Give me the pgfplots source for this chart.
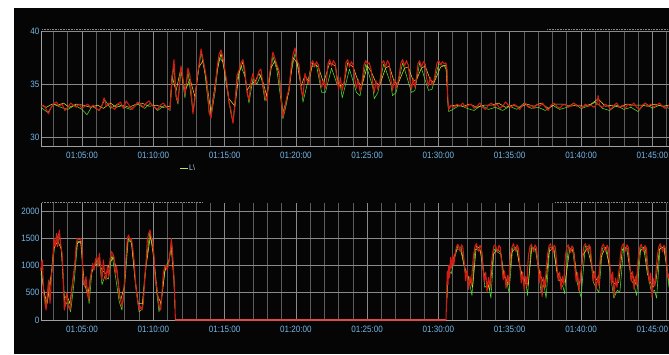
\documentclass[border=0pt]{standalone}
\usepackage{fontspec}
\setmainfont{Liberation Sans}[FakeStretch=0.88]
\usepackage{pgfplots}
\pgfplotsset{compat=1.18}
\definecolor{bgk}{HTML}{050505}
\definecolor{lblue}{HTML}{74B6E6}
\definecolor{trred}{HTML}{D41C14}
\definecolor{trpink}{HTML}{E04A44}
\definecolor{trgreen}{HTML}{4EDC2A}
\definecolor{tryellow}{HTML}{E6D22E}
\definecolor{gridmaj}{HTML}{8A8A8A}
\definecolor{gridmin}{HTML}{5C5C5C}
\pgfplotsset{
  panel/.style={
    scale only axis, width=628pt,
    xmin=62.124, xmax=106.17,
    axis lines*=left,
    axis line style={draw=gridmaj!80!white, line width=0.9pt},
    xtick={65,70,75,80,85,90,95,100,105},
    xticklabels={01:05:00,01:10:00,01:15:00,01:20:00,01:25:00,01:30:00,01:35:00,01:40:00,01:45:00},
    minor xtick={63,64,66,67,68,69,71,72,73,74,76,77,78,79,81,82,83,84,86,87,88,89,91,92,93,94,96,97,98,99,101,102,103,104,106},
    xmajorgrids, xminorgrids, ymajorgrids,
    major grid style={draw=gridmaj, line width=0.7pt},
    minor grid style={draw=gridmin, line width=0.6pt},
    major tick length=0pt, minor tick length=0pt,
    tick style={draw=none},
    ticklabel style={font=\fontsize{9.2}{10}\selectfont, text=lblue},
    xticklabel style={yshift=-2.2pt},
    yticklabel style={xshift=1.8pt},
    /pgf/number format/assume math mode=true,
    /pgf/number format/1000 sep={},
    clip=false,
  },
  red/.style={draw=trred, line width=1.05pt, line join=round, no marks},
  grn/.style={draw=trgreen, line width=0.55pt, line join=round, no marks},
  yel/.style={draw=tryellow, line width=0.55pt, line join=round, no marks},
}
\begin{document}
\begin{tikzpicture}[x=1pt,y=1pt]
\path[use as bounding box] (0,0) rectangle (669,354);
\fill[white] (0,0) rectangle (669,354);
\fill[bgk] (14,0) rectangle (669,346);
% ---------------- top panel ----------------
\begin{axis}[panel, at={(41pt,208pt)}, anchor=south west, height=115pt,
  ymin=29.15, ymax=40, ytick={30,35,40}]
\addplot[grn] coordinates {
(62.12,32.8)(62.6,32.3)(63.0,33.1)(63.5,32.8)(64.0,32.6)(64.5,33.0)(65.0,32.6)(65.35,32.1)(65.7,32.9)(66.2,32.5)(66.6,33.5)(67.0,32.7)(67.5,33.1)(68.0,32.8)(68.4,32.6)(68.9,33.1)(69.4,32.7)(69.8,33.2)(70.3,32.5)(70.8,33.0)(71.17,32.5)
(71.31,35.0)(71.45,36.8)(71.59,33.8)(71.73,33.1)(71.94,36.3)(72.22,33.7)(72.43,36.2)(72.78,32.4)(73.06,35.2)(73.35,38.0)(73.63,35.9)(73.91,32.5)(74.05,31.9)(74.33,34.2)(74.61,37.5)(74.89,37.1)(75.17,34.5)(75.45,32.2)(75.59,31.4)(75.87,35.4)(76.15,36.7)(76.43,35.7)(76.71,33.2)(76.99,35.5)(77.27,35.0)(77.55,35.9)(77.83,33.4)(78.11,35.0)(78.39,37.6)(78.67,36.3)(78.95,33.5)(79.09,31.7)(79.37,33.3)(79.66,36.0)(79.94,37.9)(80.22,36.3)(80.5,33.3)(80.78,34.9)
(81.06,36.6)(81.44,36.8)(81.81,34.2)(82.07,34.2)(82.5,36.5)(82.88,35.0)(83.12,34.9)(83.25,33.7)(83.76,36.4)(84.25,34.2)(84.5,33.9)(84.9,36.9)(85.38,34.8)(85.5,33.6)(85.75,34.2)(86.16,36.9)(86.66,35.0)(86.78,33.9)(87.03,34.2)(87.49,37.0)(88.11,34.2)(88.35,34.4)(88.68,37.0)(89.3,34.4)(89.55,34.5)(90.02,36.9)(90.42,36.7)(90.6,36.2)(90.66,33.0)(90.72,32.4)
(91.0,32.6)(91.5,33.0)(92.0,32.7)(92.5,32.5)(93.0,33.0)(93.5,32.6)(94.0,32.8)(94.5,32.5)(95.0,32.9)(95.5,32.6)(96.0,33.2)(96.5,32.7)(97.0,32.8)(97.5,32.5)(98.0,33.0)(98.5,32.6)(99.0,32.8)(99.5,33.2)(100.0,32.7)(100.5,32.9)(101.0,33.3)(101.5,32.7)(102.0,32.5)(102.5,33.0)(103.0,32.6)(103.5,32.8)(104.0,32.4)(104.5,33.2)(105.0,32.7)(105.5,33.0)(106.17,32.7)
};
\addplot[yel] coordinates {
(62.12,33.0)(62.5,32.8)(62.9,33.1)(63.3,33.0)(63.7,33.2)(64.1,32.8)(64.6,33.1)(65.1,33.0)(65.6,32.8)(66.1,33.0)(66.5,32.7)(67.0,33.2)(67.4,32.8)(67.9,33.0)(68.3,32.8)(68.8,33.1)(69.2,33.2)(69.7,32.9)(70.2,33.0)(70.7,32.8)(71.17,32.9)
(71.31,35.8)(71.59,34.3)(71.94,36.5)(72.22,34.3)(72.57,35.5)(72.92,33.8)(73.2,36.6)(73.49,37.2)(73.77,34.9)(74.05,32.3)(74.47,36.2)(74.75,37.9)(75.03,36.0)(75.31,33.6)(75.73,32.9)(76.01,36.0)(76.29,37.1)(76.57,34.4)(76.85,35.0)(77.13,35.2)(77.41,36.0)(77.69,35.2)(77.97,33.8)(78.25,36.5)(78.53,37.2)(78.81,36.0)(79.09,32.3)(79.52,34.3)(79.8,37.5)(80.08,37.0)(80.36,34.8)(80.64,35.8)(80.92,35.2)
(81.18,37.0)(81.58,36.6)(81.94,35.1)(82.37,37.0)(82.77,36.7)(83.0,34.8)(83.38,35.0)(83.63,37.0)(84.02,36.6)(84.38,35.2)(84.62,34.8)(85.02,36.7)(85.27,36.2)(85.62,35.1)(85.88,34.9)(86.29,36.5)(86.55,36.7)(86.9,35.2)(87.16,35.0)(87.62,36.5)(87.88,36.6)(88.23,35.3)(88.46,35.4)(88.81,36.5)(89.07,36.7)(89.42,35.4)(89.68,35.1)(90.15,36.6)(90.52,36.8)(90.66,33.3)(90.72,32.9)
(91.2,33.0)(91.7,32.9)(92.2,33.1)(92.7,32.8)(93.2,33.0)(93.7,33.0)(94.2,33.2)(94.7,32.8)(95.2,33.0)(95.7,32.8)(96.2,33.1)(96.7,32.9)(97.2,33.2)(97.7,32.7)(98.2,33.1)(98.7,33.1)(99.2,32.9)(99.7,33.0)(100.2,32.9)(100.7,33.1)(101.2,33.6)(101.7,32.9)(102.2,33.0)(102.7,32.8)(103.2,33.1)(103.7,33.0)(104.2,33.0)(104.7,32.9)(105.2,33.1)(105.7,32.9)(106.17,33.0)
};
\addplot[red] coordinates {
(62.12,32.9)(62.3,33.0)(62.5,32.6)(62.65,32.2)(62.8,32.7)(63.0,33.1)(63.2,33.3)(63.4,32.9)(63.6,33.1)(63.8,32.5)(64.0,32.8)(64.2,33.2)(64.4,33.0)(64.6,32.8)(64.8,33.1)(65.0,32.7)(65.2,32.9)(65.4,33.1)(65.6,32.8)(65.8,33.0)(66.0,32.7)(66.2,32.5)(66.4,33.0)(66.55,33.7)(66.7,32.9)(66.9,33.2)(67.1,32.8)(67.3,32.6)(67.5,33.1)(67.7,33.3)(67.9,32.7)(68.1,33.4)(68.3,33.0)(68.5,32.6)(68.7,32.9)(68.9,33.3)(69.1,33.1)(69.3,32.8)(69.5,33.2)(69.7,33.4)(69.9,33.0)(70.1,32.8)(70.3,32.6)(70.5,33.0)(70.7,33.2)(70.9,32.9)(71.1,32.6)(71.17,32.6)
(71.31,35.5)(71.45,37.3)(71.59,34.0)(71.73,33.3)(71.94,36.7)(72.08,35.5)(72.22,34.0)(72.43,36.5)(72.57,35.8)(72.78,32.2)(72.92,33.5)(73.06,35.5)(73.2,36.8)(73.35,38.3)(73.49,37.3)(73.63,36.3)(73.77,35.2)(73.91,32.3)(74.05,31.8)(74.19,33.5)(74.33,34.5)(74.47,36.5)(74.61,37.8)(74.75,38.2)(74.89,37.5)(75.03,36.3)(75.17,35.0)(75.31,33.2)(75.45,32.5)(75.59,31.3)(75.73,33.0)(75.87,35.8)(76.01,36.3)(76.15,37.0)(76.29,37.3)(76.43,36.2)(76.57,34.2)(76.71,33.5)(76.85,35.2)(76.99,36.0)(77.13,35.0)(77.27,35.5)(77.41,36.2)(77.55,36.4)(77.69,35.0)(77.83,33.8)(77.97,33.4)(78.11,35.5)(78.25,36.8)(78.39,38.0)(78.53,37.4)(78.67,36.8)(78.81,36.3)(78.95,34.0)(79.09,31.9)(79.23,32.8)(79.37,33.8)(79.52,34.5)(79.66,36.5)(79.8,37.8)(79.94,38.4)(80.08,37.2)(80.22,36.8)(80.36,34.5)(80.5,33.8)(80.64,36.0)(80.78,35.3)(80.92,35.0)
(81.06,36.9)(81.18,37.2)(81.31,36.6)(81.44,37.1)(81.58,36.8)(81.68,35.5)(81.81,34.7)(81.94,35.3)(82.07,34.6)(82.17,35.6)
(82.25,36.9)(82.37,37.3)(82.5,36.7)(82.63,37.2)(82.77,36.9)(82.88,35.4)(83.0,34.5)(83.12,35.6)(83.25,34.4)(83.38,35.2)(83.45,35.9)
(83.51,37.0)(83.63,37.3)(83.76,36.6)(83.89,37.1)(84.02,36.8)(84.13,35.5)(84.25,34.6)(84.38,35.4)(84.5,34.3)(84.62,35.0)(84.71,36.0)
(84.78,36.8)(84.9,37.2)(85.02,36.9)(85.14,37.0)(85.27,36.4)(85.38,35.2)(85.5,34.2)(85.62,35.3)(85.75,34.5)(85.88,35.1)(85.97,36.0)
(86.04,37.0)(86.16,37.2)(86.29,36.6)(86.42,37.2)(86.55,36.9)(86.66,35.5)(86.78,34.4)(86.9,35.4)(87.03,34.6)(87.16,35.2)(87.28,36.1)
(87.37,37.0)(87.49,37.3)(87.62,36.7)(87.75,37.2)(87.88,36.8)(87.99,35.4)(88.11,34.5)(88.23,35.5)(88.35,34.7)(88.46,35.6)
(88.56,36.9)(88.68,37.2)(88.81,36.6)(88.94,37.1)(89.07,36.9)(89.18,35.5)(89.3,34.8)(89.42,35.6)(89.55,34.9)(89.68,35.3)(89.8,36.2)
(89.9,37.0)(90.02,37.2)(90.15,36.8)(90.28,37.1)(90.42,36.9)(90.52,37.0)(90.6,36.4)(90.66,33.5)(90.72,32.6)
(90.9,33.0)(91.1,32.8)(91.3,33.1)(91.5,32.9)(91.7,33.2)(91.9,32.8)(92.1,33.0)(92.3,33.1)(92.5,32.7)(92.7,32.9)(92.9,33.2)(93.1,32.8)(93.3,32.6)(93.5,33.0)(93.7,33.2)(93.9,32.9)(94.1,33.1)(94.3,32.7)(94.5,32.9)(94.7,33.3)(94.9,33.0)(95.1,32.8)(95.3,33.1)(95.5,32.9)(95.7,32.6)(95.9,33.0)(96.1,33.2)(96.3,32.8)(96.5,33.0)(96.7,32.7)(96.9,33.1)(97.1,32.9)(97.3,33.2)(97.5,32.8)(97.7,32.5)(97.9,33.0)(98.1,33.2)(98.3,32.9)(98.5,32.7)(98.7,33.0)(98.9,33.1)(99.1,32.8)(99.3,33.0)(99.5,33.2)(99.7,32.9)(99.9,33.0)(100.1,32.7)(100.3,33.1)(100.5,32.9)(100.7,33.0)(100.9,32.8)(101.1,33.1)(101.2,33.9)(101.3,33.0)(101.5,32.8)(101.7,33.1)(101.9,32.9)(102.1,32.6)(102.3,33.0)(102.5,33.2)(102.7,32.8)(102.9,33.0)(103.1,32.7)(103.3,33.1)(103.5,32.9)(103.7,33.2)(103.9,32.8)(104.1,32.6)(104.3,33.0)(104.5,33.2)(104.7,32.9)(104.9,33.1)(105.1,32.8)(105.3,33.0)(105.5,33.2)(105.7,32.9)(105.9,32.7)(106.17,33.0)
};
\draw[gridmaj, densely dotted, line width=0.6pt] (axis cs:62.19,40.2) -- (axis cs:73.49,40.2);
\draw[gridmaj, densely dotted, line width=0.6pt] (axis cs:97.61,40.2) -- (axis cs:106.17,40.2);
\end{axis}
% legend-like label under the top panel
\draw[tryellow!70!trgreen!80!white, line width=0.9pt] (180,186) -- (188,186);
\node[anchor=west, inner sep=0pt, text=lblue!60!white, font=\fontsize{8}{9}\selectfont] at (189,186) {L\textbackslash};
% ---------------- bottom panel ----------------
\begin{axis}[panel, at={(41pt,33.2pt)}, anchor=south west, height=117.8pt,
  ymin=-15, ymax=2147, ytick={0,500,1000,1500,2000}]
\addplot[grn] coordinates {
(62.12,850)(62.3,600)(62.48,250)(62.7,650)(62.9,900)(63.1,1400)(63.4,1600)(63.6,1150)(63.8,250)(64.0,350)(64.2,150)(64.45,700)(64.7,1450)(64.95,1400)(65.1,650)(65.3,700)(65.5,300)(65.7,900)(65.95,1050)(66.2,1150)(66.4,650)(66.6,800)(66.85,750)(67.1,1200)(67.35,800)(67.6,350)(67.8,180)(68.0,650)(68.25,1500)(68.5,1400)(68.75,650)(69.0,150)(69.2,200)(69.45,950)(69.75,1600)(70.0,1300)(70.2,600)(70.4,150)(70.6,450)(70.85,950)(71.1,1100)(71.3,1400)(71.45,800)(71.52,200)
};
\addplot[grn] coordinates {
(90.58,300)(90.62,700)(90.75,900)(90.9,850)(91.1,1100)(91.35,1350)(91.6,1330)(91.85,900)(92.05,800)(92.2,650)(92.35,450)(92.55,1300)(92.8,1280)(93.05,1250)(93.25,600)(93.5,650)(93.68,400)(93.9,1300)(94.15,1250)(94.4,1200)(94.6,800)(94.8,700)(94.95,500)(95.2,1320)(95.5,1330)(95.75,900)(95.95,750)(96.15,650)(96.25,450)(96.5,1350)(96.8,1300)(97.0,950)(97.2,500)(97.4,650)(97.55,400)(97.8,1330)(98.1,1320)(98.35,800)(98.55,700)(98.75,600)(98.85,480)(99.1,1330)(99.4,1300)(99.6,900)(99.8,600)(100.0,420)(100.3,1350)(100.6,1340)(100.85,700)(101.05,600)(101.25,500)(101.5,1320)(101.8,1330)(102.05,850)(102.3,400)(102.55,550)(102.72,500)(103.0,1350)(103.3,1300)(103.5,750)(103.7,650)(103.9,450)(104.2,1340)(104.5,1320)(104.75,750)(104.95,500)(105.15,550)(105.3,400)(105.55,1350)(105.85,1320)(106.17,600)
};
\addplot[yel] coordinates {
(62.12,950)(62.35,500)(62.55,300)(62.8,700)(63.0,1300)(63.3,1450)(63.55,1300)(63.75,400)(63.95,450)(64.15,300)(64.4,800)(64.65,1400)(64.9,1450)(65.15,700)(65.4,450)(65.65,850)(65.9,1000)(66.15,1050)(66.45,900)(66.7,850)(66.95,1050)(67.2,1150)(67.45,900)(67.7,350)(67.95,600)(68.2,1450)(68.45,1450)(68.7,800)(68.95,300)(69.25,300)(69.5,1000)(69.8,1550)(70.05,1100)(70.3,450)(70.55,300)(70.8,900)(71.05,1000)(71.25,1350)(71.45,700)(71.52,250)
};
\addplot[yel] coordinates {
(90.6,400)(90.65,800)(90.8,950)(91.0,1100)(91.3,1300)(91.55,1300)(91.8,1000)(92.0,850)(92.25,700)(92.4,600)(92.65,1350)(92.9,1320)(93.15,900)(93.4,700)(93.6,550)(93.85,1200)(94.1,1300)(94.35,1250)(94.55,850)(94.75,750)(94.9,650)(95.15,1250)(95.45,1330)(95.7,1000)(95.9,800)(96.1,700)(96.3,650)(96.55,1330)(96.85,1300)(97.1,850)(97.35,700)(97.5,600)(97.75,1250)(98.05,1330)(98.3,900)(98.5,800)(98.7,700)(98.9,700)(99.2,1300)(99.5,1250)(99.7,800)(99.9,650)(100.15,1200)(100.45,1320)(100.75,1000)(100.95,800)(101.2,700)(101.4,1150)(101.7,1330)(101.95,1050)(102.2,700)(102.45,650)(102.65,700)(102.9,1300)(103.2,1320)(103.45,900)(103.65,800)(103.85,650)(104.1,1250)(104.4,1330)(104.65,850)(104.85,700)(105.05,600)(105.25,700)(105.5,1300)(105.8,1340)(106.05,900)(106.17,700)
};
\addplot[red] coordinates {
(62.12,900)(62.17,1070)(62.23,1100)(62.29,550)(62.41,300)(62.48,183)(62.57,489)(62.66,734)(62.76,306)(62.87,857)(62.94,979)(63.04,1499)(63.11,1346)(63.22,1591)(63.29,1346)(63.41,1652)(63.50,1407)(63.60,1223)(63.69,734)(63.76,183)(63.85,306)(63.92,500)(64.04,245)(64.16,183)(64.28,550)(64.39,795)(64.51,1040)(64.58,1346)(64.67,1499)(64.79,1468)(64.91,1499)(65.00,1346)(65.05,857)(65.09,734)(65.19,612)(65.28,795)(65.37,489)(65.47,367)(65.56,734)(65.65,857)(65.75,1040)(65.84,918)(65.94,1101)(66.03,1162)(66.12,979)(66.22,1223)(66.31,979)(66.40,734)(66.50,1101)(66.59,857)(66.68,734)(66.78,979)(66.87,795)(66.96,1101)(67.06,1254)(67.15,1223)(67.24,1162)(67.34,857)(67.43,979)(67.52,734)(67.62,428)(67.71,367)(67.81,245)(67.90,428)(67.99,734)(68.09,1162)(68.18,1499)(68.27,1560)(68.37,1468)(68.46,1499)(68.55,1346)(68.65,1101)(68.74,734)(68.83,489)(68.93,306)(69.02,183)(69.11,245)(69.21,183)(69.30,306)(69.39,734)(69.49,1040)(69.58,1468)(69.68,1591)(69.77,1652)(69.86,1499)(69.96,1468)(70.05,1162)(70.14,734)(70.24,612)(70.33,428)(70.42,245)(70.52,183)(70.61,489)(70.70,857)(70.80,979)(70.89,1010)(70.98,918)(71.08,1040)(71.17,1223)(71.27,1499)(71.36,1162)(71.43,857)(71.50,428)(71.55,0)
};
\addplot[draw=trpink, line width=1.5pt, no marks] coordinates {
(71.55,0)(75,0)(80,0)(85,0)(90.53,0)
};
\addplot[red] coordinates {
(90.53,0)(90.58,500)(90.62,900)(90.67,650)(90.72,1000)(90.78,780)(90.85,1150)(90.92,950)(91.0,1200)(91.08,1000)
(91.16,1200)(91.26,1340)(91.36,1390)(91.46,1310)(91.53,1250)(91.61,1380)(91.71,1340)(91.81,1050)(91.91,720)(92.01,920)(92.11,560)(92.21,800)(92.31,640)(92.38,950)
(92.46,1180)(92.56,1350)(92.66,1400)(92.76,1300)(92.83,1260)(92.91,1370)(93.01,1320)(93.11,1000)(93.21,700)(93.31,880)(93.41,520)(93.51,780)(93.61,600)(93.70,980)
(93.79,1200)(93.89,1360)(93.99,1380)(94.09,1290)(94.16,1240)(94.24,1370)(94.34,1330)(94.44,1020)(94.54,740)(94.64,900)(94.74,580)(94.84,820)(94.94,650)(94.99,950)
(95.06,1210)(95.16,1340)(95.26,1400)(95.36,1300)(95.43,1260)(95.51,1380)(95.61,1320)(95.71,1000)(95.81,680)(95.91,880)(96.01,540)(96.11,800)(96.21,620)(96.25,960)
(96.32,1190)(96.42,1350)(96.52,1390)(96.62,1290)(96.69,1250)(96.77,1380)(96.87,1330)(96.97,1040)(97.07,700)(97.17,900)(97.27,430)(97.37,780)(97.47,600)(97.56,950)
(97.65,1200)(97.75,1350)(97.85,1400)(97.95,1300)(98.02,1250)(98.10,1370)(98.20,1340)(98.30,1020)(98.40,720)(98.50,880)(98.60,560)(98.70,800)(98.80,640)(98.84,960)
(98.91,1190)(99.01,1340)(99.11,1380)(99.21,1300)(99.28,1240)(99.36,1360)(99.46,1320)(99.56,1000)(99.66,700)(99.76,870)(99.86,530)(99.96,780)(100.03,950)
(100.11,1200)(100.21,1360)(100.31,1400)(100.41,1310)(100.48,1250)(100.56,1380)(100.66,1330)(100.76,1030)(100.86,720)(100.96,890)(101.06,560)(101.16,790)(101.26,630)(101.30,960)
(101.37,1190)(101.47,1350)(101.57,1390)(101.67,1300)(101.74,1250)(101.82,1370)(101.92,1320)(102.02,1010)(102.12,680)(102.22,880)(102.32,430)(102.42,770)(102.52,600)(102.62,840)(102.70,980)
(102.77,1200)(102.87,1350)(102.97,1400)(103.07,1300)(103.14,1260)(103.22,1380)(103.32,1330)(103.42,1020)(103.52,710)(103.62,890)(103.72,560)(103.82,800)(103.92,630)(103.96,960)
(104.03,1190)(104.13,1340)(104.23,1390)(104.33,1290)(104.40,1250)(104.48,1370)(104.58,1320)(104.68,1000)(104.78,690)(104.88,860)(104.98,420)(105.08,760)(105.18,620)(105.28,970)
(105.36,1200)(105.46,1350)(105.56,1400)(105.66,1310)(105.73,1250)(105.81,1370)(105.91,1320)(106.01,1020)(106.11,760)(106.17,850)
};
\draw[gridmaj, densely dotted, line width=0.6pt] (axis cs:62.19,2165) -- (axis cs:73.49,2165);
\draw[gridmaj, densely dotted, line width=0.6pt] (axis cs:98.17,2165) -- (axis cs:106.17,2165);
\end{axis}
\end{tikzpicture}
\end{document}
